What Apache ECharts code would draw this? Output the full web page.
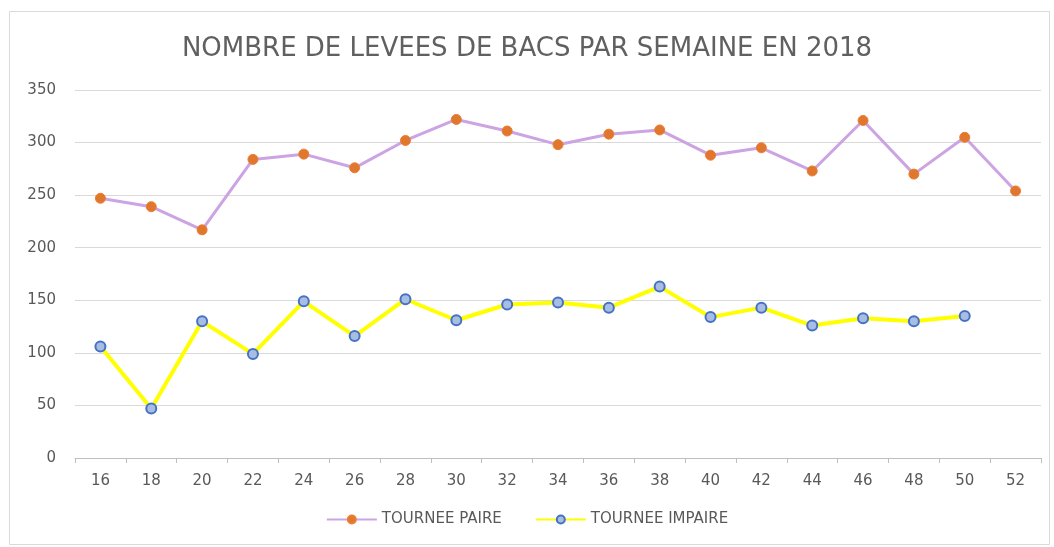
<!DOCTYPE html>
<html>
<head>
    <meta charset="UTF-8">
    <title>Levées de bacs 2018</title>
    <script src="https://cdn.jsdelivr.net/npm/echarts@6/dist/echarts.min.js"></script>
    <style>
        html, body { margin: 0; padding: 0; background: #fff; }
        #main { width: 1054px; height: 547px; }
    </style>
</head>
<body>
<div id="main"></div>
<script type="text/javascript">
    // semaines (axe x)
    var semaines = ['16','18','20','22','24','26','28','30','32','34','36','38','40','42','44','46','48','50','52'];
    // valeurs
    var tourneePaire = [247, 239, 217, 284, 289, 276, 302, 322, 311, 298, 308, 312, 288, 295, 273, 321, 270, 305, 254];
    var tourneeImpaire = [106, 47, 130, 99, 149, 116, 151, 131, 146, 148, 143, 163, 134, 143, 126, 133, 130, 135, null];

    var textColor = '#595959';
    var font = 'DejaVu Sans';
    var myChart = echarts.init(document.getElementById('main'));
    var option = {
        animation: false,
        backgroundColor: '#fff',
        title: {
            text: 'NOMBRE DE LEVEES DE BACS PAR SEMAINE EN 2018',
            left: 'center',
            top: 31,
            textStyle: {
                fontFamily: font,
                fontSize: 26,
                fontWeight: 'normal',
                color: '#606060'
            }
        },
        graphic: [{
            type: 'rect',
            shape: { x: 9.5, y: 11.5, width: 1040, height: 533 },
            style: { fill: 'none', stroke: '#d9d9d9', lineWidth: 1 },
            silent: true
        }],
        legend: {
            bottom: 15,
            left: 'center',
            itemWidth: 50,
            itemHeight: 10,
            itemGap: 33,
            textStyle: { fontFamily: font, fontSize: 15, color: textColor },
            data: ['TOURNEE PAIRE', 'TOURNEE IMPAIRE']
        },
        grid: { left: 75, right: 13, top: 90, bottom: 89 },
        xAxis: {
            type: 'category',
            data: semaines,
            boundaryGap: true,
            axisLine: { lineStyle: { color: '#bfbfbf' } },
            axisTick: { show: true, length: 5, lineStyle: { color: '#bfbfbf' } },
            axisLabel: { fontFamily: font, fontSize: 15, color: textColor, margin: 16 }
        },
        yAxis: {
            type: 'value',
            min: 0,
            max: 350,
            interval: 50,
            axisLine: { show: false },
            axisTick: { show: false },
            axisLabel: { fontFamily: font, fontSize: 15, color: textColor, margin: 19 },
            splitLine: { lineStyle: { color: '#d9d9d9' } }
        },
        series: [
            {
                name: 'TOURNEE PAIRE',
                type: 'line',
                data: tourneePaire,
                symbol: 'circle',
                symbolSize: 10,
                lineStyle: { color: '#cca3e3', width: 3 },
                itemStyle: { color: '#e0772f', borderColor: '#ed7d31', borderWidth: 1 }
            },
            {
                name: 'TOURNEE IMPAIRE',
                type: 'line',
                data: tourneeImpaire,
                symbol: 'circle',
                symbolSize: 10,
                lineStyle: { color: '#ffff00', width: 4 },
                itemStyle: { color: '#a9bde3', borderColor: '#4472c4', borderWidth: 2 }
            }
        ]
    };
    myChart.setOption(option);
</script>
</body>
</html>
